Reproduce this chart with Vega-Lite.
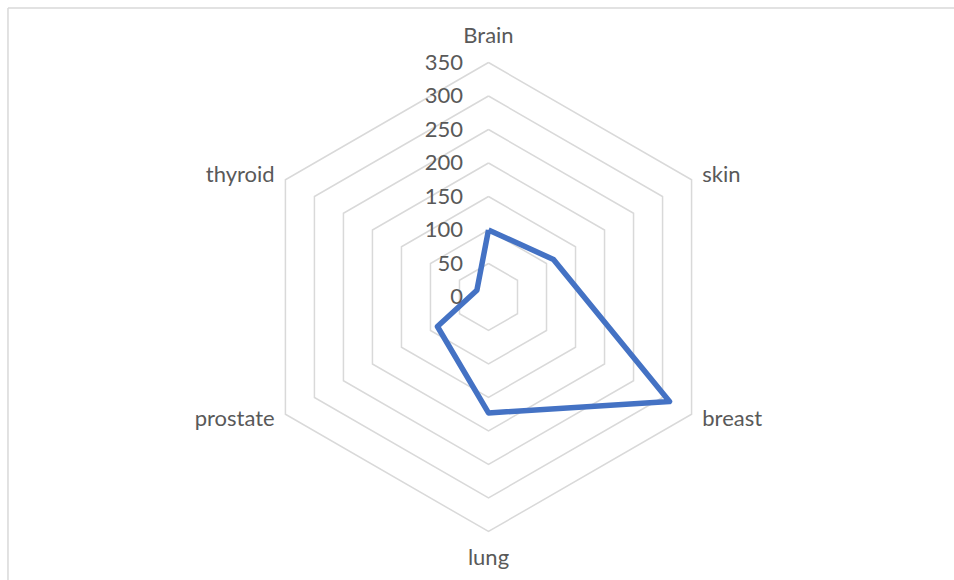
{
  "$schema": "https://vega.github.io/schema/vega-lite/v6.json",
  "width": 954,
  "height": 580,
  "autosize": {"type": "none"},
  "padding": 0,
  "background": "white",
  "config": {"view": {"stroke": null}},
  "datasets": {
    "series": [
      {"axis": "Brain", "idx": 0, "value": 100},
      {"axis": "skin", "idx": 1, "value": 112},
      {"axis": "breast", "idx": 2, "value": 312},
      {"axis": "lung", "idx": 3, "value": 173},
      {"axis": "prostate", "idx": 4, "value": 88},
      {"axis": "thyroid", "idx": 5, "value": 20},
      {"axis": "Brain", "idx": 6, "value": 100}
    ],
    "levels": [
      {"level": 50, "k": [0, 1, 2, 3, 4, 5, 6]},
      {"level": 100, "k": [0, 1, 2, 3, 4, 5, 6]},
      {"level": 150, "k": [0, 1, 2, 3, 4, 5, 6]},
      {"level": 200, "k": [0, 1, 2, 3, 4, 5, 6]},
      {"level": 250, "k": [0, 1, 2, 3, 4, 5, 6]},
      {"level": 300, "k": [0, 1, 2, 3, 4, 5, 6]},
      {"level": 350, "k": [0, 1, 2, 3, 4, 5, 6]}
    ],
    "ticks": [
      {"tick": 0}, {"tick": 50}, {"tick": 100}, {"tick": 150},
      {"tick": 200}, {"tick": 250}, {"tick": 300}, {"tick": 350}
    ],
    "axes": [
      {"axis": "Brain", "idx": 0},
      {"axis": "skin", "idx": 1},
      {"axis": "breast", "idx": 2},
      {"axis": "lung", "idx": 3},
      {"axis": "prostate", "idx": 4},
      {"axis": "thyroid", "idx": 5}
    ],
    "frame": [{"fx1": -717.2, "fx2": 720, "fy1": 431.3, "fy2": -440}]
  },
  "resolve": {"scale": {"x": "shared", "y": "shared"}},
  "layer": [
    {
      "data": {"name": "levels"},
      "transform": [
        {"flatten": ["k"]},
        {"calculate": "datum.level * sin(datum.k * PI / 3)", "as": "gx"},
        {"calculate": "datum.level * cos(datum.k * PI / 3)", "as": "gy"}
      ],
      "mark": {"type": "line", "stroke": "#d9d9d9", "strokeWidth": 1.5},
      "encoding": {
        "x": {"field": "gx", "type": "quantitative", "scale": {"domain": [-729.1, 694.8], "nice": false, "zero": false}, "axis": null},
        "y": {"field": "gy", "type": "quantitative", "scale": {"domain": [-422.4, 443.3], "nice": false, "zero": false}, "axis": null},
        "detail": {"field": "level", "type": "nominal"},
        "order": {"field": "k", "type": "quantitative"}
      }
    },
    {
      "data": {"name": "series"},
      "transform": [
        {"calculate": "datum.value * sin(datum.idx * PI / 3)", "as": "px"},
        {"calculate": "datum.value * cos(datum.idx * PI / 3)", "as": "py"}
      ],
      "mark": {"type": "line", "stroke": "#4472C4", "strokeWidth": 5.5, "strokeJoin": "round"},
      "encoding": {
        "x": {"field": "px", "type": "quantitative", "scale": {"domain": [-729.1, 694.8], "nice": false, "zero": false}, "axis": null},
        "y": {"field": "py", "type": "quantitative", "scale": {"domain": [-422.4, 443.3], "nice": false, "zero": false}, "axis": null},
        "order": {"field": "idx", "type": "quantitative"}
      }
    },
    {
      "data": {"name": "ticks"},
      "mark": {"type": "text", "align": "right", "baseline": "middle", "font": "Lato", "fontSize": 22, "color": "#595959"},
      "encoding": {
        "x": {"datum": -38, "scale": {"domain": [-729.1, 694.8], "nice": false, "zero": false}, "axis": null},
        "y": {"field": "tick", "type": "quantitative", "scale": {"domain": [-422.4, 443.3], "nice": false, "zero": false}, "axis": null},
        "text": {"field": "tick", "type": "quantitative"}
      }
    },
    {
      "data": {"name": "axes"},
      "transform": [
        {"calculate": "(datum.idx % 3 == 0 ? 390 : 365)", "as": "lr"},
        {"calculate": "datum.lr * sin(datum.idx * PI / 3)", "as": "lx"},
        {"calculate": "datum.lr * cos(datum.idx * PI / 3)", "as": "ly"},
        {"calculate": "datum.idx % 3 == 0 ? 'center' : (datum.idx < 3 ? 'left' : 'right')", "as": "side"}
      ],
      "encoding": {
        "x": {"field": "lx", "type": "quantitative", "scale": {"domain": [-729.1, 694.8], "nice": false, "zero": false}, "axis": null},
        "y": {"field": "ly", "type": "quantitative", "scale": {"domain": [-422.4, 443.3], "nice": false, "zero": false}, "axis": null},
        "text": {"field": "axis"}
      },
      "layer": [
        {
          "transform": [{"filter": "datum.side == 'center'"}],
          "mark": {"type": "text", "align": "center", "baseline": "middle", "font": "Lato", "fontSize": 22, "color": "#595959"}
        },
        {
          "transform": [{"filter": "datum.side == 'left'"}],
          "mark": {"type": "text", "align": "left", "baseline": "middle", "dx": 2, "font": "Lato", "fontSize": 22, "color": "#595959"}
        },
        {
          "transform": [{"filter": "datum.side == 'right'"}],
          "mark": {"type": "text", "align": "right", "baseline": "middle", "dx": -2, "font": "Lato", "fontSize": 22, "color": "#595959"}
        }
      ]
    },
    {
      "data": {"name": "frame"},
      "mark": {"type": "rule", "stroke": "#d9d9d9", "strokeWidth": 1.5},
      "encoding": {
        "x": {"field": "fx1", "type": "quantitative", "scale": {"domain": [-729.1, 694.8], "nice": false, "zero": false}, "axis": null},
        "x2": {"field": "fx2"},
        "y": {"field": "fy1", "type": "quantitative", "scale": {"domain": [-422.4, 443.3], "nice": false, "zero": false}, "axis": null}
      }
    },
    {
      "data": {"name": "frame"},
      "mark": {"type": "rule", "stroke": "#d9d9d9", "strokeWidth": 1.5},
      "encoding": {
        "x": {"field": "fx1", "type": "quantitative", "scale": {"domain": [-729.1, 694.8], "nice": false, "zero": false}, "axis": null},
        "y": {"field": "fy1", "type": "quantitative", "scale": {"domain": [-422.4, 443.3], "nice": false, "zero": false}, "axis": null},
        "y2": {"field": "fy2"}
      }
    }
  ]
}
